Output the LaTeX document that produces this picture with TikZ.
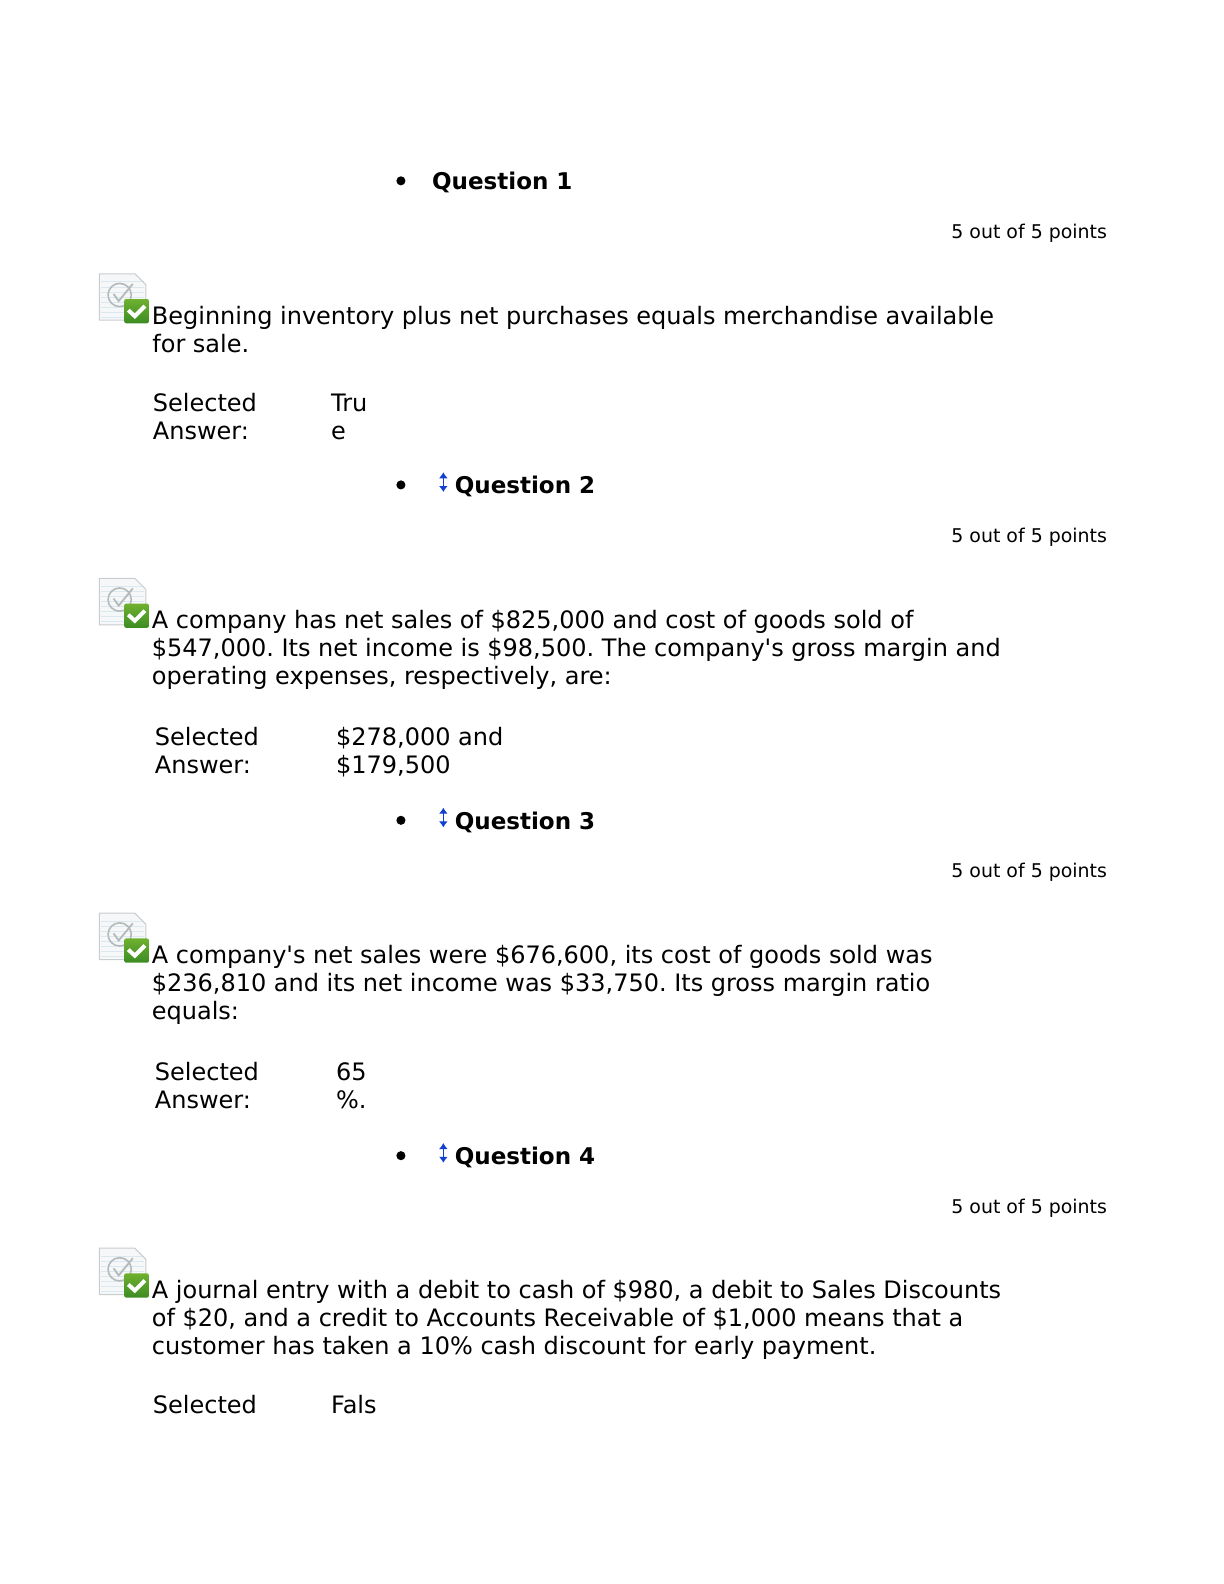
\documentclass[tikz,border=0pt]{standalone}
\usepackage{fontspec}
\setmainfont{DejaVu Sans}
\usetikzlibrary{arrows.meta}
\definecolor{tickgreen}{HTML}{6FB02F}
\definecolor{tickdark}{HTML}{3C8C24}
\definecolor{headblue}{HTML}{1240D0}
\definecolor{sheetline}{HTML}{C9CDCD}
\definecolor{sheetrule}{HTML}{DCE8F0}
\definecolor{sheetfill}{HTML}{F5F7F8}
\definecolor{dialgray}{HTML}{B4BABA}
\tikzset{
  body/.style={anchor=base west, inner sep=0pt, font=\fontsize{12.04}{14}\selectfont},
  head/.style={anchor=base west, inner sep=0pt, font=\fontsize{11.55}{14}\selectfont\bfseries},
  marks/.style={anchor=base east, inner sep=0pt, font=\fontsize{9.5}{12}\selectfont},
}
\begin{document}
\frenchspacing
\begin{tikzpicture}[x=0.50495bp, y=-0.5051bp]
  \useasboundingbox (0,0) rectangle (1212,1568);

  % Grade icons: sheet with a green tick
  \foreach \ytop in {271, 572.5, 904, 1235.5} {
    \begin{scope}[shift={(98.5,\ytop)}]
      \fill[sheetfill] (0,0) -- (35,0) -- (46,11) -- (46,46) -- (0,46) -- cycle;
      \foreach \yy in {8,13,...,43} \draw[sheetrule, line width=0.4pt] (2,\yy) -- (44,\yy);
      \draw[sheetline, line width=0.5pt] (0,46) -- (0,0) -- (35,0) -- (46,11) -- (46,46) -- cycle;
      \draw[dialgray, line width=0.8pt] (20,21) circle (11.5);
      \draw[dialgray, line width=0.9pt] (14,20) -- (19,27) -- (33,10);
      \shade[top color=tickgreen, bottom color=tickdark, rounded corners=1pt] (24.5,25) rectangle (49,49);
      \draw[white, line width=2pt] (28.5,36) -- (35,42) -- (45,32);
    \end{scope}
  }

  % Bullets and question titles
  \foreach \ymid/\ypts [count=\i] in {179/236, 480/537, 812/869, 1144/1201} {
    \fill (397,\ymid) circle (4.5);
    \node[marks] (pts\i) at (1096.5,\ypts) {5 out of 5 points};
  }
  \node[head] (title1) at (427.5,188) {Question 1};
  \foreach \ybase [count=\i from 2] in {489, 821, 1153} {
    \draw[{Latex[length=3pt,width=4.5pt]}-{Latex[length=3pt,width=4.5pt]}, headblue, line width=0.7pt] (439,\ybase-21.5) -- (439,\ybase-2);
    \node[head] (title\i) at (450,\ybase) {Question \i};
  }

  % Question 1
  \node[body] (qa1) at (150,321) {Beginning inventory plus net purchases equals merchandise available};
  \node[body] (qa2) at (150.5,349) {for sale.};
  \node[body] (sa1) at (151,407) {Selected};
  \node[body] (sa2) at (151,435) {Answer:};
  \node[body] (va1) at (327.5,407) {Tru};
  \node[body] (va2) at (327.5,435) {e};

  % Question 2
  \node[body] (qb1) at (150,622) {A company has net sales of \$825,000 and cost of goods sold of};
  \node[body] (qb2) at (150,650) {\$547,000. Its net income is \$98,500. The company\textquotesingle s gross margin and};
  \node[body] (qb3) at (150,678) {operating expenses, respectively, are:};
  \node[body] (sb1) at (153,738) {Selected};
  \node[body] (sb2) at (153,766) {Answer:};
  \node[body] (vb1) at (332.5,738) {\$278,000 and};
  \node[body] (vb2) at (332.5,766) {\$179,500};

  % Question 3
  \node[body] (qc1) at (150,954) {A company\textquotesingle s net sales were \$676,600, its cost of goods sold was};
  \node[body] (qc2) at (150,981.5) {\$236,810 and its net income was \$33,750. Its gross margin ratio};
  \node[body] (qc3) at (150,1009.5) {equals:};
  \node[body] (sc1) at (153,1070) {Selected};
  \node[body] (sc2) at (153,1097.5) {Answer:};
  \node[body] (vc1) at (332.5,1070) {65};
  \node[body] (vc2) at (332.5,1097.5) {\%.};

  % Question 4
  \node[body] (qd1) at (150,1285) {A journal entry with a debit to cash of \$980, a debit to Sales Discounts};
  \node[body] (qd2) at (150,1313) {of \$20, and a credit to Accounts Receivable of \$1,000 means that a};
  \node[body] (qd3) at (150,1341) {customer has taken a 10\% cash discount for early payment.};
  \node[body] (sd1) at (151,1399) {Selected};
  \node[body] (vd1) at (327.5,1399) {Fals};
\end{tikzpicture}
\end{document}
